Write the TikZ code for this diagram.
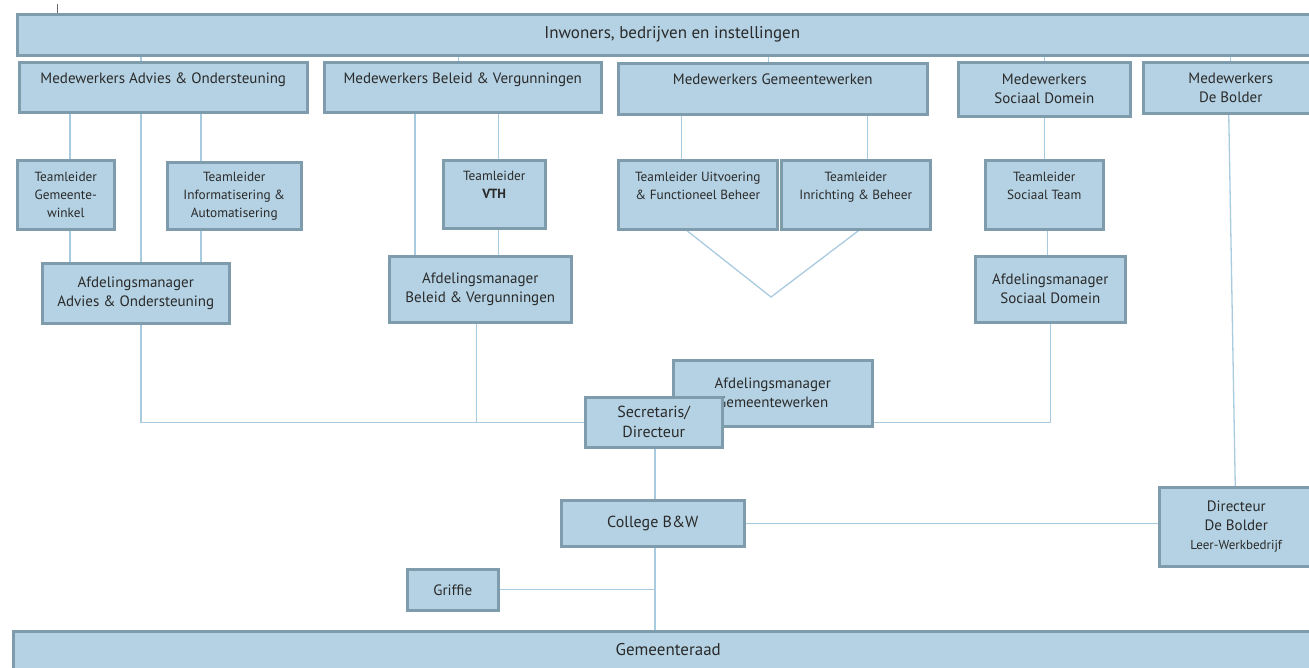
\documentclass[tikz,border=0pt]{standalone}
\usepackage{fontspec}
\setmainfont{PT Sans}
\usepackage{tikz}
\usetikzlibrary{positioning,calc,backgrounds}
\usepackage{xcolor}
\definecolor{boxfill}{HTML}{B4D2E3}
\definecolor{boxedge}{HTML}{7F9CAC}
\definecolor{connline}{HTML}{A8CBDF}
\definecolor{txtcol}{HTML}{2A2A2A}

\begin{document}
\begin{tikzpicture}[
    x=1pt, y=-1pt,
    box/.style={rectangle, draw=boxedge, fill=boxfill, line width=2.5pt, anchor=north west, align=center, inner sep=2pt, text=txtcol, font=\fontsize{15}{19}\selectfont},
    tlbox/.style={box, font=\fontsize{13.3}{18}\selectfont},
    bigbox/.style={box, font=\fontsize{16}{20}\selectfont},
    wide/.style={box, font=\fontsize{17}{20}\selectfont},
    conn/.style={draw=connline, line width=1.3pt}
]
\useasboundingbox (0,0) rectangle (1309,667);
\clip (0,0) rectangle (1309,667);

% Top row
\node[wide, minimum width=1310, minimum height=41] (inw) at (16,13) {Inwoners, bedrijven en instellingen};
\draw[draw=txtcol!70, line width=0.8pt] ([xshift=41]inw.north west) -- ++(0,-9);

% Medewerkers
\node[box, minimum width=288, minimum height=50] (mwao) at (18,61) {Medewerkers Advies \& Ondersteuning\\\mbox{}};
\node[box, minimum width=277, minimum height=50] (mwbv) at (323,61) {Medewerkers Beleid \& Vergunningen\\\mbox{}};
\node[box, minimum width=309, minimum height=51] (mwgw) at (617,62) {Medewerkers Gemeentewerken\\\mbox{}};
\node[box, minimum width=172, minimum height=54] (mwsd) at (957,61) {Medewerkers\\Sociaal Domein};
\node[box, minimum width=175, minimum height=51] (mwdb) at (1142,61) {Medewerkers\\De Bolder};

% Teamleiders
\node[tlbox, minimum width=97, minimum height=69] (tlgw) at (16,159) {Teamleider\\Gemeente-\\winkel};
\node[tlbox, minimum width=134, minimum height=67] (tlia) at (166,161) {Teamleider\\Informatisering \&\\Automatisering};
\node[tlbox, minimum width=102, minimum height=68] (tlvth) at (442,159) {Teamleider\\\textbf{VTH}\\\mbox{}};
\node[tlbox, minimum width=159, minimum height=69] (tluf) at (617,159) {Teamleider Uitvoering\\\& Functioneel Beheer\\\mbox{}};
\node[tlbox, minimum width=149, minimum height=69] (tlib) at (780,159) {Teamleider\\Inrichting \& Beheer\\\mbox{}};
\node[tlbox, minimum width=118, minimum height=69] (tlst) at (984,159) {Teamleider\\Sociaal Team\\\mbox{}};

% Afdelingsmanagers
\node[box, minimum width=187, minimum height=60] (afdao) at (41,262) {Afdelingsmanager\\Advies \& Ondersteuning};
\node[box, minimum width=182, minimum height=66] (afdbv) at (388,255) {Afdelingsmanager\\Beleid \& Vergunningen};
\node[box, minimum width=150, minimum height=66] (afdsd) at (974,255) {Afdelingsmanager\\Sociaal Domein};
\node[box, minimum width=199, minimum height=66] (afdgw) at (672,359) {Afdelingsmanager\\Gemeentewerken};

% Bestuur
\node[bigbox, minimum width=137, minimum height=50] (secr) at (584,396) {Secretaris/\\Directeur};
\node[bigbox, minimum width=183, minimum height=46] (coll) at (560,499) {College B\&W};
\node[box, minimum width=154, minimum height=79] (dir) at (1158,486) {Directeur\\De Bolder\\{\fontsize{13}{19}\selectfont Leer-Werkbedrijf}};
\node[box, minimum width=91, minimum height=41] (grif) at (406,568) {Griffie};
\node[wide, minimum width=1310, minimum height=56] (gr) at (12,630) {Gemeenteraad\\\mbox{}};

% Spines
\coordinate (spA) at (141,0);
\coordinate (spI) at (201,0);
\coordinate (spW) at (70,0);
\coordinate (spB) at (415,0);
\coordinate (spC) at (655,0);
\coordinate (vtip) at (771,297);

% Connectors
\begin{pgfonlayer}{background}
\draw[conn] (spA |- inw.south) -- (spA |- mwao.north);
\draw[conn] ([xshift=-4]mwbv.north) -- ([xshift=-4]mwbv.north |- inw.south);
\draw[conn] ([xshift=-4]mwgw.north) -- ([xshift=-4]mwgw.north |- inw.south);
\draw[conn] (mwsd.north) -- (mwsd.north |- inw.south);
\draw[conn] (mwdb.north) -- (mwdb.north |- inw.south);

\draw[conn] (spW |- mwao.south) -- (spW |- tlgw.north);
\draw[conn] (spW |- tlgw.south) -- (spW |- afdao.north);
\draw[conn] (spA |- mwao.south) -- (spA |- afdao.north);
\draw[conn] (spI |- mwao.south) -- (spI |- tlia.north);
\draw[conn] (spI |- tlia.south) -- (spI |- afdao.north);

\draw[conn] (spB |- mwbv.south) -- (spB |- afdbv.north);
\draw[conn] ([xshift=4]tlvth.north) -- ([xshift=4]tlvth.north |- mwbv.south);
\draw[conn] ([xshift=4]tlvth.south) -- ([xshift=4]tlvth.south |- afdbv.north);

\draw[conn] ([xshift=-16]tluf.north) -- ([xshift=-16]tluf.north |- mwgw.south);
\draw[conn] ([xshift=12]tlib.north) -- ([xshift=12]tlib.north |- mwgw.south);
\draw[conn] ([xshift=-11]tluf.south) -- (vtip) -- ([xshift=3]tlib.south);

\draw[conn] (mwsd.south) -- (mwsd.south |- tlst.north);
\draw[conn] ([xshift=3]tlst.south) -- ([xshift=3]tlst.south |- afdsd.north);

\draw[conn] (spA |- afdao.south) -- (spA |- secr.west) -- (secr.west);
\draw[conn] ([xshift=-4]afdbv.south) -- ([xshift=-4]afdbv.south |- secr.west);
\draw[conn] (afdsd.south) -- (afdsd.south |- secr.west) -- (afdgw.east |- secr.west);

\draw[conn] (spC |- secr.south) -- (spC |- coll.north);
\draw[conn] (spC |- coll.south) -- (spC |- gr.north);
\draw[conn] (grif.east) -- (grif.east -| spC);
\draw[conn] (coll.east) -- (coll.east -| dir.west);
\draw[conn] ([xshift=-2]mwdb.south) -- ([xshift=-1]dir.north);
\end{pgfonlayer}

\end{tikzpicture}
\end{document}
